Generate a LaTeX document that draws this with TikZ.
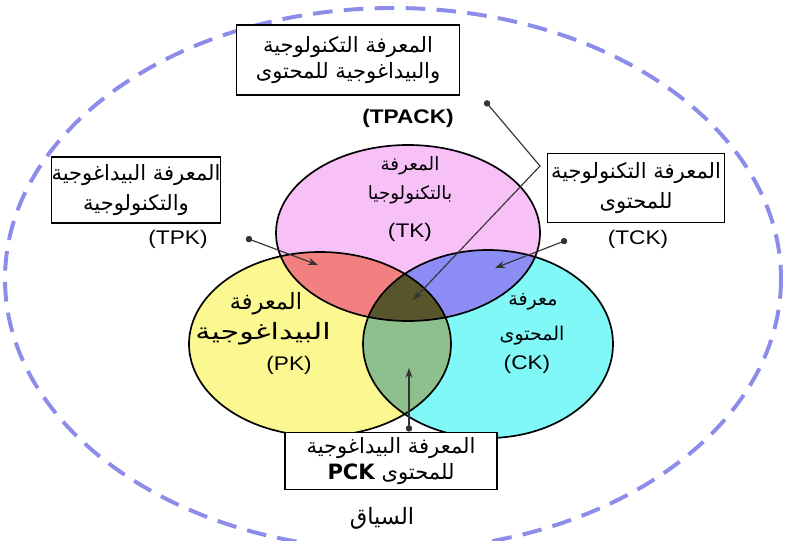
\documentclass[tikz,border=0pt]{standalone}
\usepackage{fontspec}
\setmainfont{Liberation Serif}
\setsansfont{Liberation Sans}
\newfontfamily\arfont[Script=Arabic]{DejaVu Sans}
\newfontfamily\arwidefont[Script=Arabic,FakeStretch=1.34]{DejaVu Sans}
\newfontfamily\abbrfont[FakeStretch=1.15]{Liberation Sans}
\TeXXeTstate=1
\usetikzlibrary{arrows.meta}

\definecolor{tkpink}{RGB}{247,192,247}
\definecolor{pkyellow}{RGB}{252,248,145}
\definecolor{ckcyan}{RGB}{128,248,248}
\definecolor{tpkred}{RGB}{242,128,128}
\definecolor{tckblue}{RGB}{140,140,245}
\definecolor{pckgreen}{RGB}{142,192,142}
\definecolor{tpackolive}{RGB}{88,84,44}
\definecolor{contextblue}{RGB}{140,140,235}

\newcommand{\ar}[1]{{\arfont\beginR #1\endR}}
\def\tkellipse{(408,233) ellipse [x radius=132, y radius=88]}
\def\pkellipse{(320,344) ellipse [x radius=131, y radius=92]}
\def\ckellipse{(488,344) ellipse [x radius=125, y radius=94]}

\begin{document}
\begin{tikzpicture}[x=0.025cm,y=-0.025cm,
    box/.style={draw,line width=1.3pt,fill=white,align=center,inner sep=0pt,
      font=\fontsize{15}{21}\selectfont},
    abbr/.style={font=\abbrfont\fontsize{14}{16}\selectfont},
    tklbl/.style={font=\fontsize{13}{15}\selectfont},
    pklbl/.style={font=\fontsize{16}{18}\selectfont},
    cklbl/.style={font=\fontsize{13.5}{15}\selectfont},
    pointer/.style={{Circle[length=4.5pt]}-{Stealth[length=7pt,width=5pt]},line width=0.8pt,black!80}]
	\useasboundingbox (0,0) rectangle (790,540);
	\clip (0,0) rectangle (790,540);
	\fill[white] (0,0) rectangle (790,540);
	
	% context
	\draw[contextblue,line width=2.8pt,dash pattern=on 14pt off 8pt] (393,279) ellipse [x radius=388, y radius=271];
	
	% the three circles
	\fill[tkpink] \tkellipse;
	\fill[pkyellow] \pkellipse;
	\fill[ckcyan] \ckellipse;
	\begin{scope} \clip \tkellipse; \fill[tpkred] \pkellipse; \end{scope}
	\begin{scope} \clip \tkellipse; \fill[tckblue] \ckellipse; \end{scope}
	\begin{scope} \clip \pkellipse; \fill[pckgreen] \ckellipse; \end{scope}
	\begin{scope} \clip \tkellipse; \clip \pkellipse; \fill[tpackolive] \ckellipse; \end{scope}
	\draw[line width=1.2pt] \tkellipse \pkellipse \ckellipse;
	
	\node[tklbl] (TKtitle) at (410,166) {\ar{المعرفة}};
	\node[tklbl] (TKname) at (410,195) {\ar{بالتكنولوجيا}};
	\node[abbr] (TKabbr) at (410,232) {(TK)};
	\node[pklbl] (PKtitle) at (266,304) {\ar{المعرفة}};
	\node[pklbl] (PKname) at (263,334) {{\arwidefont\beginR البيداغوجية\endR}};
	\node[abbr] (PKabbr) at (289,365) {(PK)};
	\node[cklbl] (CKtitle) at (533,302) {\ar{معرفة}};
	\node[cklbl] (CKname) at (532,336) {\ar{المحتوى}};
	\node[abbr] (CKabbr) at (527,364) {(CK)};
	
	% boxes
	\node[box,minimum width=223*0.025cm,minimum height=70*0.025cm,font=\fontsize{15}{19}\selectfont] (TPACK) at (348,60) {\ar{المعرفة التكنولوجية}\\\ar{والبيداغوجية للمحتوى}};
	\node[abbr,font=\abbrfont\bfseries\fontsize{14}{16}\selectfont] (TPACKabbr) at (408,118) {(TPACK)};
	\node[box,minimum width=168*0.025cm,minimum height=66*0.025cm] (TPK) at (136,190) {\ar{المعرفة البيداغوجية}\\\ar{والتكنولوجية}};
	\node[abbr] (TPKabbr) at (178,239) {(TPK)};
	\node[box,minimum width=177*0.025cm,minimum height=69*0.025cm] (TCK) at (636,188) {\ar{المعرفة التكنولوجية}\\\ar{للمحتوى}};
	\node[abbr] (TCKabbr) at (638,239) {(TCK)};
	\node[box,minimum width=212*0.025cm,minimum height=57*0.025cm,font=\fontsize{15}{19}\selectfont] (PCK) at (391,461) {\ar{المعرفة البيداغوجية}\\\ar{للمحتوى \beginL\bfseries PCK\endL}};
	\node[font=\fontsize{16}{20}\selectfont] (context) at (382,518) {\ar{السياق}};
	
	% pointers
	\coordinate (tpkdot) at (246,238);
	\coordinate (tpktip) at (318,265);
	\coordinate (tckdot) at (567,240);
	\coordinate (tcktip) at (495,268);
	\coordinate (tpackdot) at (485,101);
	\coordinate (tpackbend) at (540,166);
	\coordinate (tpacktip) at (413,300);
	\coordinate (pcktip) at (409,368);
	\draw[pointer] (tpkdot) -- (tpktip);
	\draw[pointer] (tckdot) -- (tcktip);
	\draw[pointer] (tpackdot) -- (tpackbend) -- (tpacktip);
	\draw[pointer] (PCK.north -| pcktip) -- (pcktip);
\end{tikzpicture}
\end{document}
